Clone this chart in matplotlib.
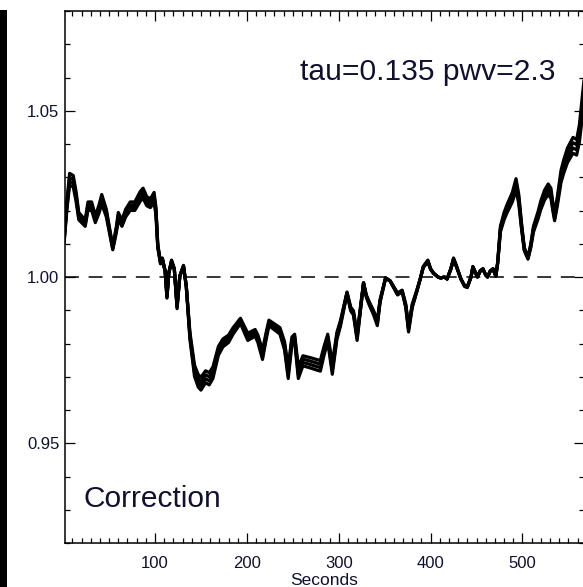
import matplotlib
matplotlib.use("Agg")
import matplotlib.pyplot as plt
import numpy as np
from matplotlib.patches import Rectangle
from matplotlib.ticker import MultipleLocator, FixedLocator

plt.rcParams['font.family'] = ['Liberation Sans', 'DejaVu Sans']
plt.rcParams['lines.scale_dashes'] = False

# Time axis (s) and mean normalised correction factor
seconds = [1, 4, 7, 11, 14, 17, 24, 27, 31, 35, 39, 42, 47, 51, 54, 58, 60, 64, 68, 73,
           78, 84, 87, 91, 95, 99, 101, 103, 106, 108, 111, 113, 115, 118, 121, 124, 127, 131, 134, 138,
           143, 147, 150, 155, 159, 163, 169, 174, 180, 185, 193, 197, 201, 209, 212, 217, 221, 224, 230, 236,
           241, 245, 249, 252, 256, 261, 269, 276, 280, 284, 288, 293, 298, 302, 306, 309, 313, 316, 320, 324,
           327, 330, 333, 338, 342, 345, 351, 356, 364, 369, 373, 376, 380, 385, 389, 392, 397, 400, 403, 408,
           411, 415, 418, 422, 425, 428, 433, 437, 440, 444, 446, 449, 451, 454, 457, 460, 462, 465, 468, 471,
           473, 476, 480, 483, 486, 489, 493, 496, 499, 502, 506, 509, 512, 517, 520, 524, 528, 531, 533, 535,
           538, 542, 545, 549, 555, 559, 562, 566, 568]
correction = [1.0108, 1.0213, 1.0294, 1.0288, 1.0243, 1.0183, 1.0162, 1.0213, 1.0213, 1.0174,
              1.0204, 1.0234, 1.0192, 1.0132, 1.0087, 1.0144, 1.0183, 1.0162, 1.0192, 1.0213,
              1.0213, 1.0243, 1.0252, 1.0228, 1.0222, 1.0240, 1.0198, 1.0093, 1.0042, 1.0054,
              1.0018, 0.9940, 1.0012, 1.0048, 1.0024, 0.9910, 1.0003, 1.0033, 0.9973, 0.9823,
              0.9718, 0.9688, 0.9679, 0.9700, 0.9694, 0.9712, 0.9778, 0.9802, 0.9814, 0.9838,
              0.9868, 0.9844, 0.9820, 0.9832, 0.9814, 0.9766, 0.9823, 0.9862, 0.9850, 0.9838,
              0.9793, 0.9712, 0.9808, 0.9817, 0.9712, 0.9748, 0.9742, 0.9736, 0.9733, 0.9778,
              0.9817, 0.9724, 0.9823, 0.9862, 0.9913, 0.9952, 0.9904, 0.9892, 0.9820, 0.9913,
              0.9982, 0.9943, 0.9922, 0.9892, 0.9862, 0.9928, 0.9997, 0.9988, 0.9949, 0.9958,
              0.9913, 0.9844, 0.9913, 0.9958, 0.9997, 1.0030, 1.0048, 1.0024, 1.0012, 1.0000,
              0.9997, 1.0000, 0.9994, 1.0024, 1.0054, 1.0033, 0.9994, 0.9973, 0.9970, 1.0000,
              1.0030, 1.0012, 1.0000, 1.0018, 1.0024, 1.0006, 1.0000, 1.0018, 1.0024, 1.0003,
              1.0042, 1.0144, 1.0183, 1.0204, 1.0222, 1.0240, 1.0279, 1.0234, 1.0153, 1.0084,
              1.0057, 1.0093, 1.0144, 1.0186, 1.0216, 1.0246, 1.0264, 1.0252, 1.0213, 1.0180,
              1.0228, 1.0303, 1.0333, 1.0366, 1.0396, 1.0390, 1.0432, 1.0535, 1.0583]

# Relative response of each detector channel around unity
channel_gain = [0.94, 0.98, 1.02, 1.06]

x_ticks = [100, 200, 300, 400, 500]
y_ticks = [0.95, 1.00, 1.05]
y_tick_labels = ["0.95", "1.00", "1.05"]
title_text = "tau=0.135 pwv=2.3"
panel_text = "Correction"
x_label = "Seconds"

W, H = 583, 587
fig = plt.figure(figsize=(W / 100, H / 100), dpi=100)
fig.patches.append(Rectangle((0, 0), 7.3 / W, (H - 10) / H, transform=fig.transFigure,
                             facecolor='black', edgecolor='none'))

ax = fig.add_axes([65 / W, 1 - 543 / H, (584 - 65) / W, (543 - 11) / H])
ax.set_xlim(2, 567)
ax.set_ylim(0.92, 1.08)

t = np.asarray(seconds, dtype=float)
c = np.asarray(correction)
for g in channel_gain:
    ax.plot(t, 1 + (c - 1) * g, color='black', lw=2.3,
            solid_joinstyle='round', solid_capstyle='round')

ax.axhline(1.0, color='black', lw=1.1, linestyle=(0, (10, 7)))

ax.xaxis.set_major_locator(FixedLocator(x_ticks))
ax.xaxis.set_minor_locator(MultipleLocator(10))
ax.yaxis.set_major_locator(FixedLocator(y_ticks))
ax.set_yticklabels(y_tick_labels)
ax.yaxis.set_minor_locator(MultipleLocator(0.01))
txt_color = '#101030'
ax.tick_params(which='both', direction='in', top=True, right=True, width=0.9,
               colors='black', labelcolor=txt_color, labelsize=12)
ax.tick_params(which='major', length=7.2, pad=4)
ax.tick_params(axis='x', which='major', pad=9)
ax.tick_params(which='minor', length=3.4)
for s in ax.spines.values():
    s.set_linewidth(1.1)

ax.set_xlabel(x_label, fontsize=12.5, color=txt_color, labelpad=2)

ax.text(0.946, 0.885, title_text, transform=ax.transAxes, ha='right', va='center',
        fontsize=21.6, color=txt_color)
ax.text(0.035, 0.083, panel_text, transform=ax.transAxes, ha='left', va='center',
        fontsize=21.5, color=txt_color)

fig.savefig("out.png", dpi=100)
